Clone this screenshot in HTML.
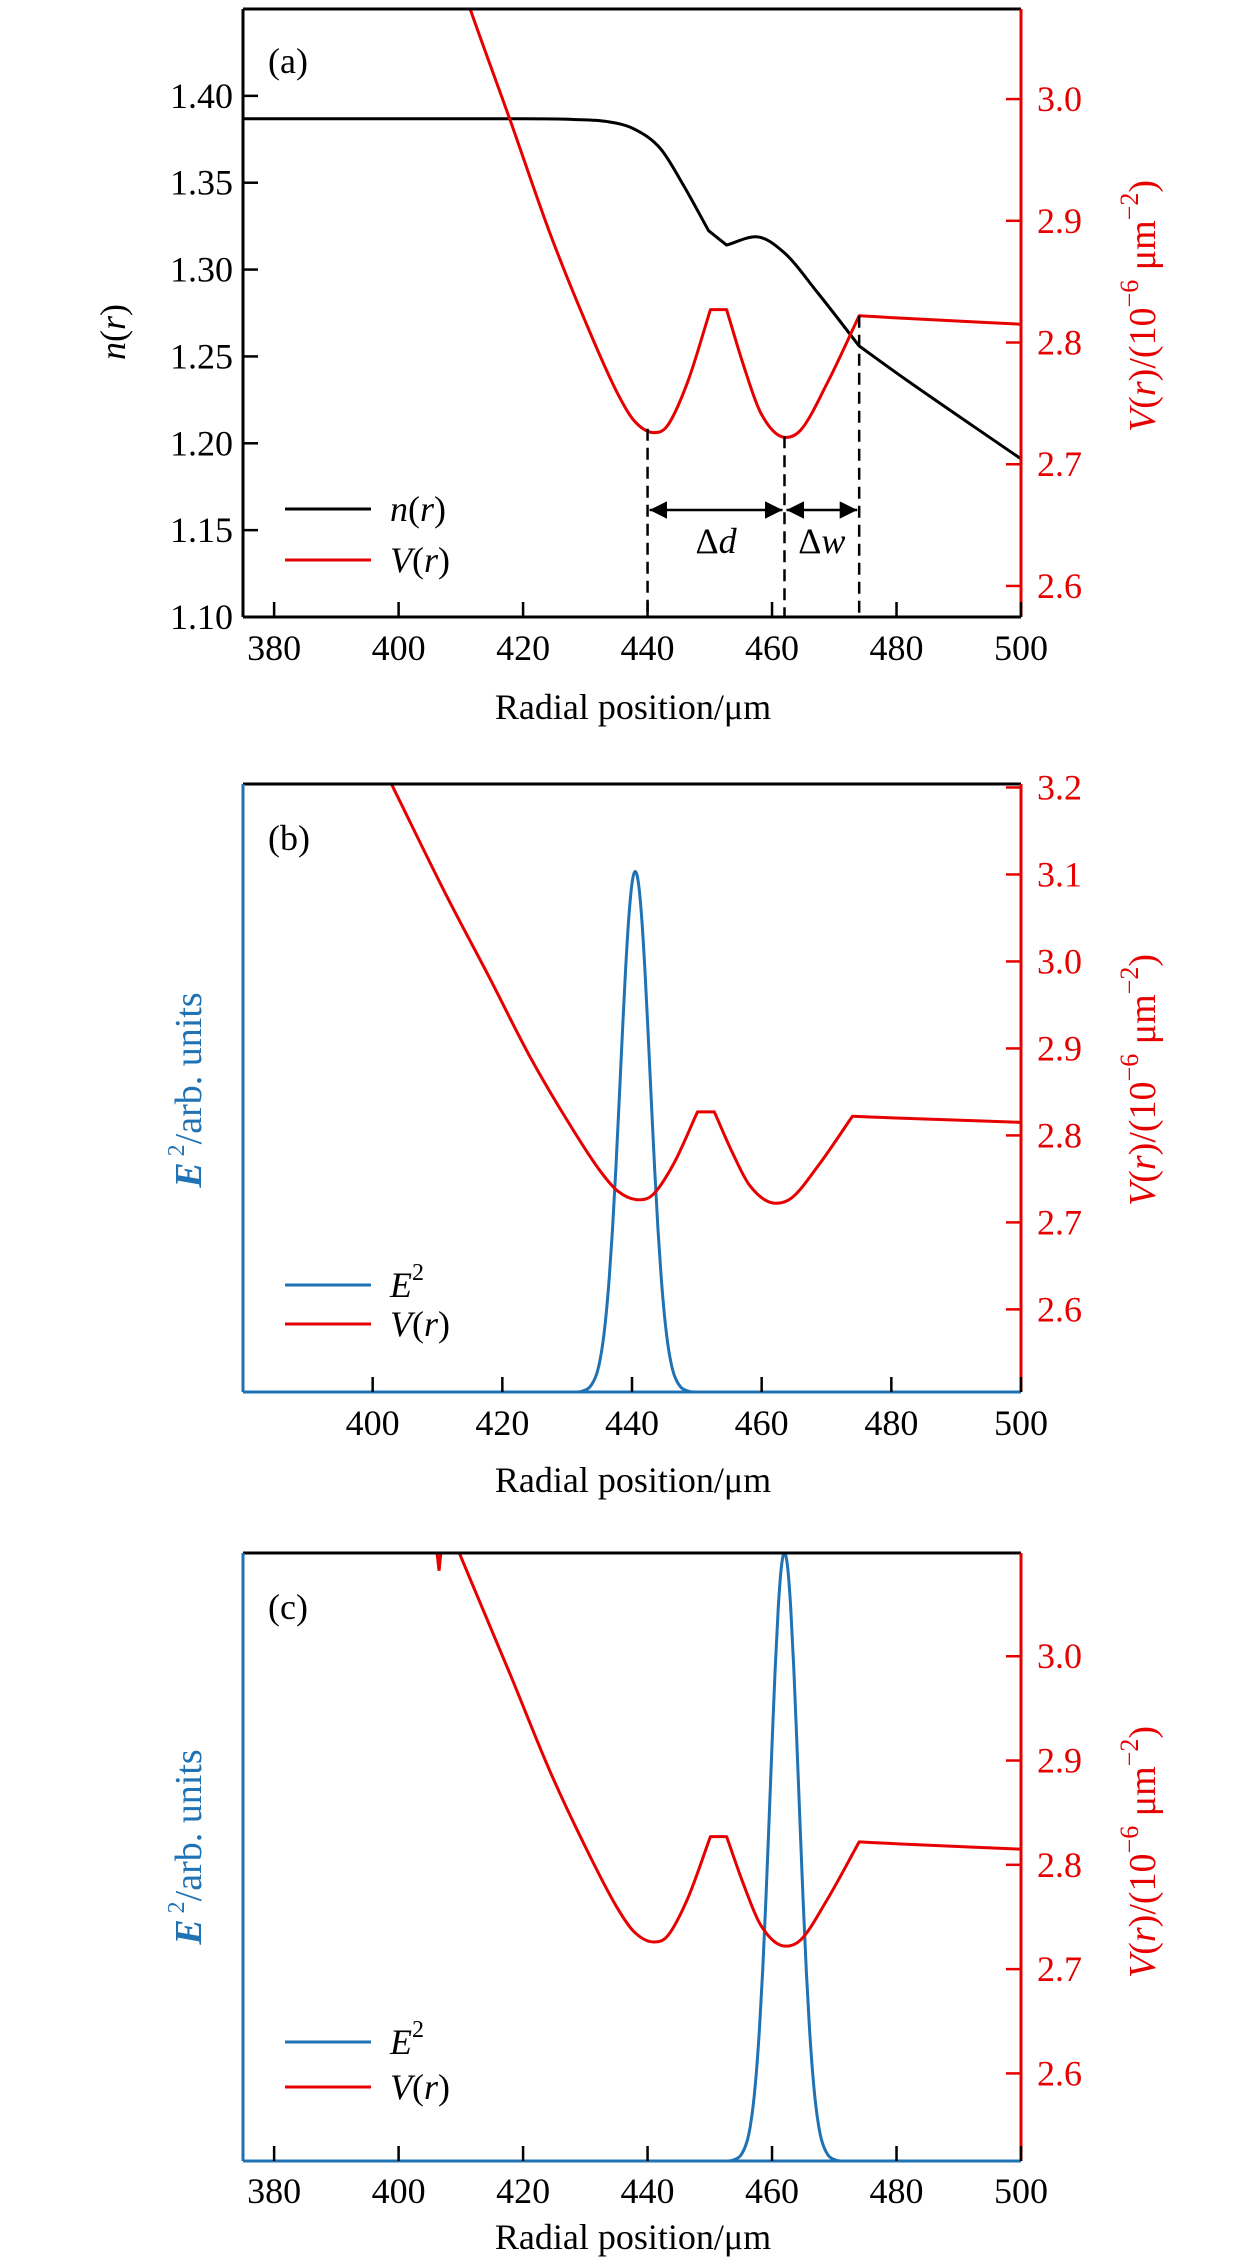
<!DOCTYPE html>
<html><head><meta charset="utf-8">
<style>
html,body{margin:0;padding:0;background:#fff;}
svg{display:block;font-family:"Liberation Serif","DejaVu Serif",serif;}
</style></head>
<body>
<svg id="fig" width="1260" height="2268" viewBox="0 0 1260 2268" xmlns="http://www.w3.org/2000/svg"></svg>
<script>
// ---- data ----
const vX = [402.5,411.5,417.9,424.3,429.7,435.1,437.8,441.0,443.1,446.4,450.1,452.7,455.5,458.2,462.2,464.6,468.9,474.0,480.7,500];
const vY = [3.21,3.074,2.983,2.890,2.821,2.759,2.736,2.726,2.731,2.767,2.827,2.827,2.780,2.742,2.722,2.728,2.767,2.822,2.820,2.815];
const vXc = [406.9,411.5,417.9,424.3,429.7,435.1,437.8,441.0,443.1,446.4,450.1,452.7,455.5,458.2,462.2,464.6,468.9,474.0,480.7,500];
const vYc = [3.14,3.074,2.983,2.890,2.821,2.759,2.736,2.726,2.731,2.767,2.827,2.827,2.780,2.742,2.722,2.728,2.767,2.822,2.820,2.815];
const glitchX = [405.6,406.5,407.3];
const glitchY = [3.13,3.082,3.13];
const vCorners = [450.1,452.7,474.0];
const nX = [375,420,428.1,433.5,437.8,442.1,445.8,449.8,452.7,457.4,461.9,467.3,474.0,480.7,500];
const nY = [1.3868,1.3868,1.3864,1.3852,1.3810,1.3695,1.3483,1.3224,1.3141,1.3189,1.3099,1.2868,1.2560,1.2387,1.191];
const nCorners = [449.8,452.7,474.0];
const eOff = [-9,-8,-7,-6,-5.5,-5,-4.5,-4,-3.5,-3,-2.5,-2,-1.5,-1,-0.5,0,0.5,1,1.5,2,2.5,3,3.5,4,4.5,5,5.5,6,7,8,9];
const eVal = [0,0.0024,0.0097,0.033,0.057,0.094,0.148,0.221,0.314,0.427,0.554,0.685,0.809,0.910,0.977,1,0.977,0.910,0.809,0.685,0.554,0.427,0.314,0.221,0.148,0.094,0.057,0.033,0.0097,0.0024,0];
const eCenterB = 440.5, eCenterC = 462;
const xTicksA = [380,400,420,440,460,480,500];
const xTicksB = [400,420,440,460,480,500];
const nTicks = [1.10,1.15,1.20,1.25,1.30,1.35,1.40];
const vTicksA = [2.6,2.7,2.8,2.9,3.0];
const vTicksB = [2.6,2.7,2.8,2.9,3.0,3.1,3.2];
const vTicksC = [2.6,2.7,2.8,2.9,3.0];
const markers = [440,462,474];

const RED="#e60000", BLUE="#1f72b4", NS="http://www.w3.org/2000/svg";
const svg=document.getElementById('fig');
function mk(tag,attrs,parent){const e=document.createElementNS(NS,tag);for(const k in attrs)e.setAttribute(k,attrs[k]);(parent||svg).appendChild(e);return e;}
function txt(s,x,y,opts,parent){const t=mk('text',Object.assign({x:x,y:y,'font-size':36,'dominant-baseline':'central'},opts||{}),parent);t.innerHTML=s;return t;}

function monoSeg(px,py,first){
  const n=px.length;let p=first?'M'+px[0]+','+py[0]:'';
  if(n<2)return p;
  if(n===2)return p+' L'+px[1]+','+py[1];
  const d=[],m=new Array(n);
  for(let i=0;i<n-1;i++)d.push((py[i+1]-py[i])/(px[i+1]-px[i]));
  m[0]=d[0];m[n-1]=d[n-2];
  for(let i=1;i<n-1;i++){m[i]=(d[i-1]*d[i]<=0)?0:(d[i-1]+d[i])/2;}
  for(let i=0;i<n-1;i++){if(d[i]===0){m[i]=0;m[i+1]=0;continue;}
    const a=m[i]/d[i],b=m[i+1]/d[i],s=a*a+b*b;if(s>9){const t=3/Math.sqrt(s);m[i]=t*a*d[i];m[i+1]=t*b*d[i];}}
  for(let i=0;i<n-1;i++){const h=(px[i+1]-px[i])/3;
    p+=' C'+(px[i]+h)+','+(py[i]+m[i]*h)+' '+(px[i+1]-h)+','+(py[i+1]-m[i+1]*h)+' '+px[i+1]+','+py[i+1];}
  return p;
}
function pathWithCorners(xs,ys,corners,fx,fy){
  let d='',start=0,first=true;
  for(let i=1;i<xs.length;i++){
    if(i===xs.length-1||corners.indexOf(xs[i])>=0){
      const sx=xs.slice(start,i+1).map(fx),sy=ys.slice(start,i+1).map(fy);
      d+=monoSeg(sx,sy,first);first=false;start=i;
    }
  }
  return d;
}

function panel(P){
  const g=mk('g',{});
  
  
  const L=243,R=1021,T=P.top,B=P.bottom;
  const sx=v=>L+(v-P.x0)/(P.x1-P.x0)*(R-L);
  const syL=v=>B-(v-P.l0)/(P.l1-P.l0)*(B-T);
  const syR=v=>B-(v-P.r0)/(P.r1-P.r0)*(B-T);
  const cid='clip'+P.id;
  const cp=mk('clipPath',{id:cid},g);mk('rect',{x:L,y:T,width:R-L,height:B-T},cp);
  const plot=mk('g',{'clip-path':'url(#'+cid+')'},g);
  function curve(xs,ys,corners,fx,fy,color,name){
    const p=mk('path',{d:pathWithCorners(xs,ys,corners,fx,fy),fill:'none',stroke:color,'stroke-width':3,'stroke-linejoin':'round'},plot);
    
    }
  if(P.n) curve(nX,nY,nCorners,sx,syL,'#000','n-curve');
  if(P.e!==undefined){const xs=[P.x0].concat(eOff.map(o=>o+P.e)).concat([P.x1]);const ys=[0].concat(eVal).concat([0]);curve(xs,ys,[],sx,syL,BLUE,'e2-curve');}
  curve(P.vx,P.vy,vCorners,sx,syR,RED,'v-curve');
  if(P.glitch){
    const gl=mk('polyline',{points:glitchX.map((x,i)=>sx(x)+','+syR(glitchY[i])).join(' '),fill:'none',stroke:RED,'stroke-width':3},plot);
    
    
  }
  mk('line',{x1:L,y1:T,x2:R,y2:T,stroke:'#000','stroke-width':3},g);
  const bl=mk('line',{x1:L,y1:B,x2:R,y2:B,stroke:P.n?'#000':BLUE,'stroke-width':3},g);
  
  
  mk('line',{x1:L,y1:T,x2:L,y2:B,stroke:P.n?'#000':BLUE,'stroke-width':3},g);
  mk('line',{x1:R,y1:T,x2:R,y2:B,stroke:RED,'stroke-width':3},g);
  P.xt.forEach(v=>{mk('line',{x1:sx(v),y1:B,x2:sx(v),y2:B-15,stroke:'#000','stroke-width':2.5},g);
    const t=txt(String(v),sx(v),P.xtY,{'text-anchor':'middle'},g);
    
    });
  const xt=txt('Radial position/μm',633,P.xTitleY,{'text-anchor':'middle'},g);
  
  
  if(P.n){nTicks.forEach(v=>{mk('line',{x1:L,y1:syL(v),x2:L+15,y2:syL(v),stroke:'#000','stroke-width':2.5},g);
      const t=txt(v.toFixed(2),233,syL(v),{'text-anchor':'end'},g);
      
      });
    const lt=txt('<tspan font-style="italic">n</tspan>(<tspan font-style="italic">r</tspan>)',0,0,{'text-anchor':'middle',transform:'translate(113,'+P.lTitleY+') rotate(-90)'},g);
    
    
  } else {
    const lt=txt('<tspan font-style="italic" font-weight="bold">E</tspan><tspan font-size="24" dy="-12"> 2</tspan><tspan dy="12">/arb. units</tspan>',0,0,{'text-anchor':'middle',fill:BLUE,'font-size':38,transform:'translate(189,'+P.lTitleY+') rotate(-90)'},g);
    
    
  }
  P.rt.forEach(v=>{mk('line',{x1:R,y1:syR(v),x2:R-15,y2:syR(v),stroke:RED,'stroke-width':2.5},g);
    const t=txt(v.toFixed(1),1037,syR(v),{fill:RED},g);
    
    });
  const rt=txt('<tspan font-style="italic">V</tspan>(<tspan font-style="italic">r</tspan>)/(10<tspan font-size="26" dy="-14">−6</tspan><tspan dy="14"> μm</tspan><tspan font-size="26" dy="-14">−2</tspan><tspan dy="14">)</tspan>',0,0,{'text-anchor':'middle',fill:RED,'font-size':38,transform:'translate(1143,'+P.rTitleY+') rotate(-90)'},g);
  
  
  const pl=txt('('+P.id+')',268,P.labelY,{},g);
  
  
  const lg=mk('g',{},g);
  
  
  P.leg.forEach((it,i)=>{const y=P.legY[i];mk('line',{x1:285,y1:y,x2:371,y2:y,stroke:it[0],'stroke-width':3},lg);txt(it[1],390,y,{},lg);});
  if(P.n){
    markers.forEach(m=>{let vy=null;for(let i=0;i<vX.length-1;i++){if(m>=vX[i]&&m<=vX[i+1]){vy=vY[i]+(vY[i+1]-vY[i])*(m-vX[i])/(vX[i+1]-vX[i]);}}
      const d=mk('line',{x1:sx(m),y1:syR(vy),x2:sx(m),y2:B,stroke:'#000','stroke-width':2.5,'stroke-dasharray':'12,7'},g);
      
      });
    const ay=510;
    const defs=mk('defs',{},g);
    const mkr=mk('marker',{id:'ah',viewBox:'0 0 10 10',refX:10,refY:5,markerWidth:7,markerHeight:7,orient:'auto-start-reverse'},defs);
    mk('path',{d:'M0,0 L10,5 L0,10 z',fill:'#000'},mkr);
    [[0,1],[1,2]].forEach(p=>{const a=mk('line',{x1:sx(markers[p[0]])+2,y1:ay,x2:sx(markers[p[1]])-2,y2:ay,stroke:'#000','stroke-width':2.5,'marker-start':'url(#ah)','marker-end':'url(#ah)'},g);
      
      });
    const dd=txt('Δ<tspan font-style="italic">d</tspan>',(sx(markers[0])+sx(markers[1]))/2,541,{'text-anchor':'middle'},g);
    
    
    const dw=txt('Δ<tspan font-style="italic">w</tspan>',(sx(markers[1])+sx(markers[2]))/2,541,{'text-anchor':'middle'},g);
    
    
  }
}
const E2='<tspan font-style="italic">E</tspan><tspan font-size="24" dy="-12">2</tspan>';
const VR='<tspan font-style="italic">V</tspan>(<tspan font-style="italic">r</tspan>)';
const NR='<tspan font-style="italic">n</tspan>(<tspan font-style="italic">r</tspan>)';
panel({id:'a',name:'panel-a',top:9,bottom:617,x0:375,x1:500,l0:1.10,l1:1.45,r0:2.5745,r1:3.074,n:true,vx:vX,vy:vY,xt:xTicksA,rt:vTicksA,xtY:648,xTitleY:707,lTitleY:332,rTitleY:306,labelY:61,leg:[['#000',NR],[RED,VR]],legY:[509,560]});
panel({id:'b',name:'panel-b',top:784,bottom:1392,x0:380,x1:500,l0:0,l1:1.168,r0:2.505,r1:3.204,e:eCenterB,vx:vX,vy:vY,xt:xTicksB,rt:vTicksB,xtY:1423,xTitleY:1480,lTitleY:1090,rTitleY:1080,labelY:838,leg:[[BLUE,E2],[RED,VR]],legY:[1285,1324]});
panel({id:'c',name:'panel-c',top:1553,bottom:2161,x0:375,x1:500,l0:0,l1:1.0,r0:2.516,r1:3.099,e:eCenterC,glitch:true,vx:vXc,vy:vYc,xt:xTicksA,rt:vTicksC,xtY:2191,xTitleY:2237,lTitleY:1847,rTitleY:1852,labelY:1607,leg:[[BLUE,E2],[RED,VR]],legY:[2042,2087]});
</script>
</body></html>
